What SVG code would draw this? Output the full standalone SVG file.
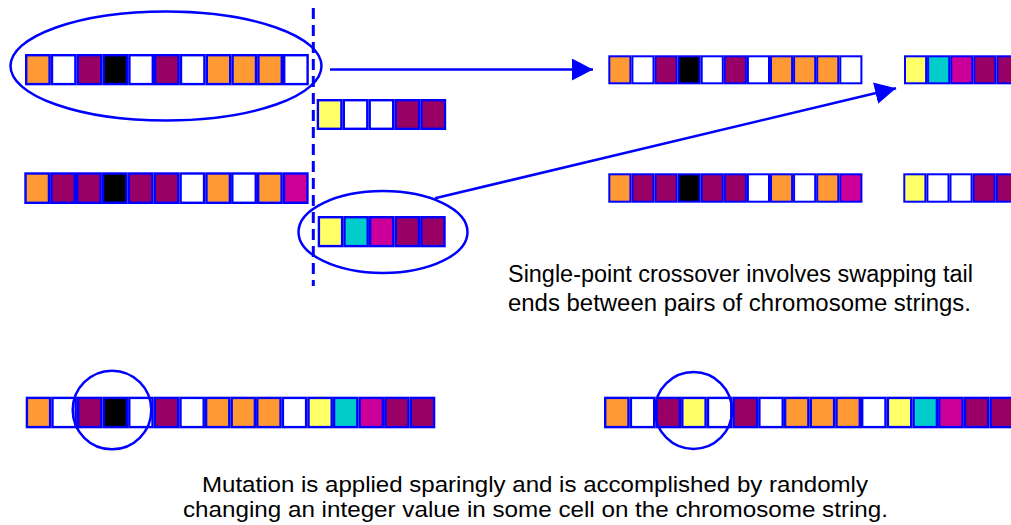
<svg xmlns="http://www.w3.org/2000/svg" width="1011" height="525" viewBox="0 0 1011 525">
<defs>
<style>
.c{stroke:#0000FF;stroke-width:2.4}
.s{stroke:#0000FF;stroke-width:2}
.o{fill:#FF9933}.w{fill:#FFFFFF}.p{fill:#990066}.k{fill:#000000}.y{fill:#FFFF66}.t{fill:#00CCCC}.m{fill:#CC0099}
.ring{fill:none;stroke:#0000FF;stroke-width:2.5}
.conn{stroke:#0000FF;stroke-width:2.5;fill:none}
.txt{font-family:"Liberation Sans",Arial,sans-serif;fill:#000000}
</style>
<marker id="ah" viewBox="0 0 21 22" refX="21" refY="11" markerWidth="21" markerHeight="22" markerUnits="userSpaceOnUse" orient="auto">
<path d="M0,0 L21,11 L0,22 Z" fill="#0000FF"/>
</marker>
</defs>
<rect width="1011" height="525" fill="#FFFFFF"/>

<g id="parent1">
<g class="c">
<rect class="o" x="26.2" y="55.2" width="23.4" height="28.9"/>
<rect class="w" x="52" y="55.2" width="23.4" height="28.9"/>
<rect class="p" x="77.8" y="55.2" width="23.4" height="28.9"/>
<rect class="k" x="103.6" y="55.2" width="23.4" height="28.9"/>
<rect class="w" x="129.4" y="55.2" width="23.4" height="28.9"/>
<rect class="p" x="155.2" y="55.2" width="23.4" height="28.9"/>
<rect class="w" x="181" y="55.2" width="23.4" height="28.9"/>
<rect class="o" x="206.8" y="55.2" width="23.4" height="28.9"/>
<rect class="o" x="232.6" y="55.2" width="23.4" height="28.9"/>
<rect class="o" x="258.4" y="55.2" width="23.4" height="28.9"/>
<rect class="w" x="284.2" y="55.2" width="23.4" height="28.9"/>
</g>
<ellipse class="ring" cx="166" cy="66" rx="155.5" ry="54.5"/>
</g>

<g id="tail1">
<g class="c">
<rect class="y" x="317.9" y="100.2" width="23.5" height="28.6"/>
<rect class="w" x="343.8" y="100.2" width="23.5" height="28.6"/>
<rect class="w" x="369.7" y="100.2" width="23.5" height="28.6"/>
<rect class="p" x="395.6" y="100.2" width="23.5" height="28.6"/>
<rect class="p" x="421.5" y="100.2" width="23.5" height="28.6"/>
</g>
</g>

<g id="parent2">
<g class="c">
<rect class="o" x="25.5" y="173.5" width="23.45" height="29.3"/>
<rect class="p" x="51.35" y="173.5" width="23.45" height="29.3"/>
<rect class="p" x="77.2" y="173.5" width="23.45" height="29.3"/>
<rect class="k" x="103.05" y="173.5" width="23.45" height="29.3"/>
<rect class="p" x="128.9" y="173.5" width="23.45" height="29.3"/>
<rect class="p" x="154.75" y="173.5" width="23.45" height="29.3"/>
<rect class="w" x="180.6" y="173.5" width="23.45" height="29.3"/>
<rect class="o" x="206.45" y="173.5" width="23.45" height="29.3"/>
<rect class="w" x="232.3" y="173.5" width="23.45" height="29.3"/>
<rect class="o" x="258.15" y="173.5" width="23.45" height="29.3"/>
<rect class="m" x="284" y="173.5" width="23.45" height="29.3"/>
</g>
</g>

<g id="tail2">
<g class="c">
<rect class="y" x="318.9" y="217.2" width="23.2" height="28.9"/>
<rect class="t" x="344.5" y="217.2" width="23.2" height="28.9"/>
<rect class="m" x="370.1" y="217.2" width="23.2" height="28.9"/>
<rect class="p" x="395.7" y="217.2" width="23.2" height="28.9"/>
<rect class="p" x="421.3" y="217.2" width="23.2" height="28.9"/>
</g>
<ellipse class="ring" cx="383" cy="232" rx="84.5" ry="41"/>
</g>

<g id="cutline">
<line x1="313.3" y1="8" x2="313.3" y2="286" stroke="#0000FF" stroke-width="3" stroke-dasharray="11 6"/>
</g>

<g id="child1">
<g class="s">
<rect class="o" x="609.3" y="56.3" width="21.1" height="27"/>
<rect class="w" x="632.4" y="56.3" width="21.1" height="27"/>
<rect class="p" x="655.5" y="56.3" width="21.1" height="27"/>
<rect class="k" x="678.6" y="56.3" width="21.1" height="27"/>
<rect class="w" x="701.7" y="56.3" width="21.1" height="27"/>
<rect class="p" x="724.8" y="56.3" width="21.1" height="27"/>
<rect class="w" x="747.9" y="56.3" width="21.1" height="27"/>
<rect class="o" x="771" y="56.3" width="21.1" height="27"/>
<rect class="o" x="794.1" y="56.3" width="21.1" height="27"/>
<rect class="o" x="817.2" y="56.3" width="21.1" height="27"/>
<rect class="w" x="840.3" y="56.3" width="21.1" height="27"/>
</g>
<g class="s">
<rect class="y" x="905" y="56.3" width="21.1" height="27"/>
<rect class="t" x="928.1" y="56.3" width="21.1" height="27"/>
<rect class="m" x="951.2" y="56.3" width="21.1" height="27"/>
<rect class="p" x="974.3" y="56.3" width="21.1" height="27"/>
<rect class="p" x="997.4" y="56.3" width="21.1" height="27"/>
</g>
</g>

<g id="child2">
<g class="s">
<rect class="o" x="609.3" y="174.3" width="21.1" height="27.4"/>
<rect class="p" x="632.4" y="174.3" width="21.1" height="27.4"/>
<rect class="p" x="655.5" y="174.3" width="21.1" height="27.4"/>
<rect class="k" x="678.6" y="174.3" width="21.1" height="27.4"/>
<rect class="p" x="701.7" y="174.3" width="21.1" height="27.4"/>
<rect class="p" x="724.8" y="174.3" width="21.1" height="27.4"/>
<rect class="w" x="747.9" y="174.3" width="21.1" height="27.4"/>
<rect class="o" x="771" y="174.3" width="21.1" height="27.4"/>
<rect class="w" x="794.1" y="174.3" width="21.1" height="27.4"/>
<rect class="o" x="817.2" y="174.3" width="21.1" height="27.4"/>
<rect class="m" x="840.3" y="174.3" width="21.1" height="27.4"/>
</g>
<g class="s">
<rect class="y" x="904.3" y="174.3" width="21.1" height="27.4"/>
<rect class="w" x="927.4" y="174.3" width="21.1" height="27.4"/>
<rect class="w" x="950.5" y="174.3" width="21.1" height="27.4"/>
<rect class="p" x="973.6" y="174.3" width="21.1" height="27.4"/>
<rect class="p" x="996.7" y="174.3" width="21.1" height="27.4"/>
</g>
</g>

<g id="connectors">
<line class="conn" x1="330" y1="69.5" x2="593" y2="69.5" marker-end="url(#ah)"/>
<line class="conn" x1="435" y1="198.3" x2="896" y2="88.3" marker-end="url(#ah)"/>
</g>

<g id="crossover-caption">
<text class="txt" x="508" y="282" font-size="23" textLength="465" lengthAdjust="spacingAndGlyphs">Single-point crossover involves swapping tail</text>
<text class="txt" x="508" y="311" font-size="23" textLength="463" lengthAdjust="spacingAndGlyphs">ends between pairs of chromosome strings.</text>
</g>

<g id="before-mutation">
<g class="c">
<rect class="o" x="26.9" y="397.9" width="23.2" height="29.2"/>
<rect class="w" x="52.5" y="397.9" width="23.2" height="29.2"/>
<rect class="p" x="78.1" y="397.9" width="23.2" height="29.2"/>
<rect class="k" x="103.7" y="397.9" width="23.2" height="29.2"/>
<rect class="w" x="129.3" y="397.9" width="23.2" height="29.2"/>
<rect class="p" x="154.9" y="397.9" width="23.2" height="29.2"/>
<rect class="w" x="180.5" y="397.9" width="23.2" height="29.2"/>
<rect class="o" x="206.1" y="397.9" width="23.2" height="29.2"/>
<rect class="o" x="231.7" y="397.9" width="23.2" height="29.2"/>
<rect class="o" x="257.3" y="397.9" width="23.2" height="29.2"/>
<rect class="w" x="282.9" y="397.9" width="23.2" height="29.2"/>
<rect class="y" x="308.5" y="397.9" width="23.2" height="29.2"/>
<rect class="t" x="334.1" y="397.9" width="23.2" height="29.2"/>
<rect class="m" x="359.7" y="397.9" width="23.2" height="29.2"/>
<rect class="p" x="385.3" y="397.9" width="23.2" height="29.2"/>
<rect class="p" x="410.9" y="397.9" width="23.2" height="29.2"/>
</g>
<circle class="ring" cx="112" cy="410" r="39.3"/>
</g>

<g id="after-mutation">
<g class="c">
<rect class="o" x="605.2" y="397.9" width="23.3" height="29.2"/>
<rect class="w" x="630.9" y="397.9" width="23.3" height="29.2"/>
<rect class="p" x="656.6" y="397.9" width="23.3" height="29.2"/>
<rect class="y" x="682.3" y="397.9" width="23.3" height="29.2"/>
<rect class="w" x="708" y="397.9" width="23.3" height="29.2"/>
<rect class="p" x="733.7" y="397.9" width="23.3" height="29.2"/>
<rect class="w" x="759.4" y="397.9" width="23.3" height="29.2"/>
<rect class="o" x="785.1" y="397.9" width="23.3" height="29.2"/>
<rect class="o" x="810.8" y="397.9" width="23.3" height="29.2"/>
<rect class="o" x="836.5" y="397.9" width="23.3" height="29.2"/>
<rect class="w" x="862.2" y="397.9" width="23.3" height="29.2"/>
<rect class="y" x="887.9" y="397.9" width="23.3" height="29.2"/>
<rect class="t" x="913.6" y="397.9" width="23.3" height="29.2"/>
<rect class="m" x="939.3" y="397.9" width="23.3" height="29.2"/>
<rect class="p" x="965" y="397.9" width="23.3" height="29.2"/>
<rect class="p" x="990.7" y="397.9" width="23.3" height="29.2"/>
</g>
<circle class="ring" cx="693.5" cy="410.5" r="38.5"/>
</g>

<g id="mutation-caption">
<text class="txt" x="535" y="492" font-size="22" text-anchor="middle" textLength="666" lengthAdjust="spacingAndGlyphs">Mutation is applied sparingly and is accomplished by randomly</text>
<text class="txt" x="535.5" y="517" font-size="22" text-anchor="middle" textLength="705" lengthAdjust="spacingAndGlyphs">changing an integer value in some cell on the chromosome string.</text>
</g>
</svg>
